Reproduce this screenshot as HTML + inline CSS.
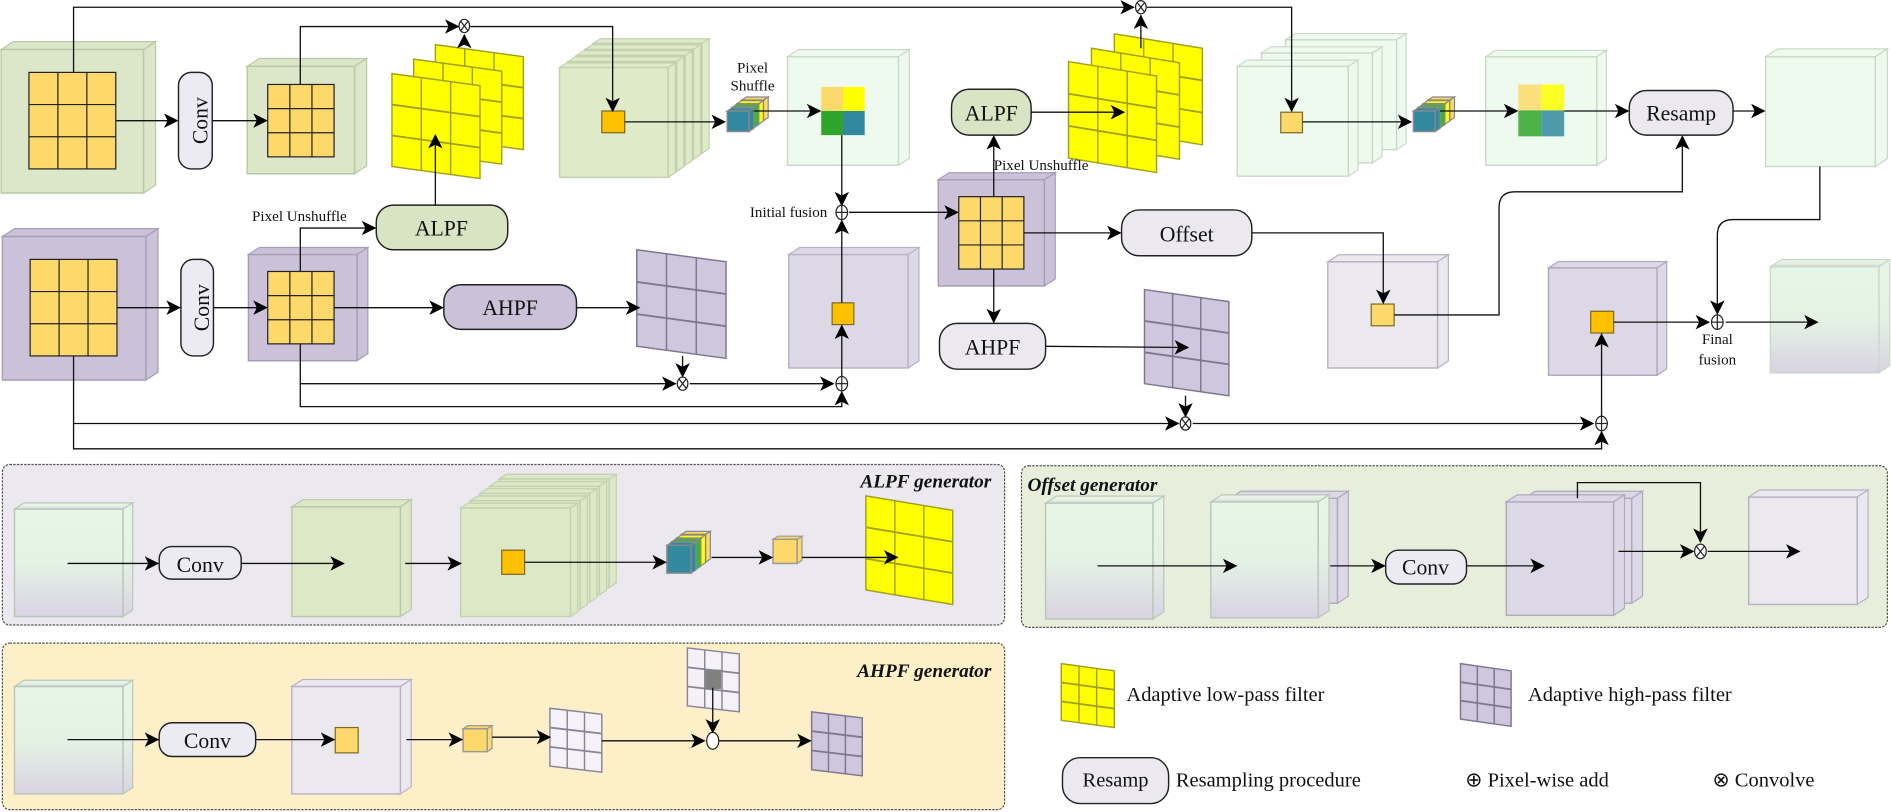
<!DOCTYPE html>
<html><head><meta charset="utf-8"><style>
html,body{margin:0;padding:0;background:#fff;}
svg{display:block;}
text{font-family:"Liberation Serif","Times New Roman",serif;fill:#111;}
</style></head><body>
<svg id="root" xmlns="http://www.w3.org/2000/svg" width="1891" height="812" viewBox="0 0 1568 673" preserveAspectRatio="none" font-family="Liberation Serif, serif">
<defs>
<marker id="ar" markerUnits="userSpaceOnUse" markerWidth="12" markerHeight="12" viewBox="0 0 12 12" refX="11" refY="6" orient="auto"><path d="M0,0 L12,6 L0,12 L3,6 Z" fill="#000"/></marker>
<linearGradient id="gg" x1="0" y1="0" x2="0" y2="1"><stop offset="0" stop-color="#e6f6e6"/><stop offset="0.5" stop-color="#e4f2e4"/><stop offset="1" stop-color="#d9d3e3"/></linearGradient>
</defs>
<rect x="2" y="385" width="831" height="133" rx="6" fill="#ebe8f0" stroke="#555" stroke-dasharray="2,1"/>
<rect x="2" y="533" width="831" height="138" rx="6" fill="#fdf0c8" stroke="#555" stroke-dasharray="2,1"/>
<rect x="847" y="386" width="718" height="134" rx="6" fill="#e7eedb" stroke="#555" stroke-dasharray="2,1"/>
<g id="s"></g>
<g id="l"></g>
<g id="t"></g>
<g font-family="Liberation Serif, serif">
<g font-size="18">
<text x="0" y="0" transform="translate(168,100) rotate(-90)" text-anchor="middle" dominant-baseline="middle">Conv</text>
<text x="0" y="0" transform="translate(169,255) rotate(-90)" text-anchor="middle" dominant-baseline="middle">Conv</text>
<text x="366" y="195" text-anchor="middle">ALPF</text>
<text x="423" y="261" text-anchor="middle">AHPF</text>
<text x="822" y="100" text-anchor="middle">ALPF</text>
<text x="823" y="294" text-anchor="middle">AHPF</text>
<text x="984" y="200" text-anchor="middle">Offset</text>
<text x="1394" y="100" text-anchor="middle">Resamp</text>
<text x="166" y="474" text-anchor="middle">Conv</text>
<text x="172" y="620" text-anchor="middle">Conv</text>
<text x="1182" y="476" text-anchor="middle">Conv</text>
</g>
<g font-size="12.5">
<text x="209" y="183">Pixel Unshuffle</text>
<text x="624" y="60" text-anchor="middle">Pixel</text>
<text x="624" y="75" text-anchor="middle">Shuffle</text>
<text x="686" y="180" text-anchor="end">Initial fusion</text>
<text x="824" y="141">Pixel Unshuffle</text>
<text x="1424" y="285" text-anchor="middle">Final</text>
<text x="1424" y="302" text-anchor="middle">fusion</text>
</g>
<g font-size="16" font-style="italic" font-weight="bold">
<text x="822" y="404" text-anchor="end">ALPF generator</text>
<text x="822" y="561" text-anchor="end">AHPF generator</text>
<text x="852" y="407">Offset generator</text>
</g>
<g font-size="17">
<text x="934" y="581">Adaptive low-pass filter</text>
<text x="1267" y="581">Adaptive high-pass filter</text>
<text x="925" y="652" text-anchor="middle">Resamp</text>
<text x="975" y="652">Resampling procedure</text>
<text x="1215" y="652">⊕ Pixel-wise add</text>
<text x="1420" y="652">⊗ Convolve</text>
</g>
</g>
</svg>
<script>
var S=document.getElementById('s'),L=document.getElementById('l'),T=document.getElementById('t'),NS='http://www.w3.org/2000/svg';
function el(t,a,p){var e=document.createElementNS(NS,t);for(var k in a)e.setAttribute(k,a[k]);(p||S).appendChild(e);return e;}
function cube(x,y,w,h,d,f,st,sf){st=st||'#b5b5b5';var dy=d*0.65;
 el('polygon',{points:[x,y,x+d,y-dy,x+w+d,y-dy,x+w,y].join(' '),fill:sf||f,stroke:st,'stroke-width':1});
 el('polygon',{points:[x+w,y,x+w+d,y-dy,x+w+d,y+h-dy,x+w,y+h].join(' '),fill:sf||f,stroke:st,'stroke-width':1});
 el('rect',{x:x,y:y,width:w,height:h,fill:f,stroke:st,'stroke-width':1.2});}
function grid(x,y,w,h,n,m,f,st){el('rect',{x:x,y:y,width:w,height:h,fill:f,stroke:st||'#222','stroke-width':1});
 for(var i=1;i<n;i++)el('line',{x1:x+w*i/n,y1:y,x2:x+w*i/n,y2:y+h,stroke:st||'#222','stroke-width':1});
 for(var j=1;j<m;j++)el('line',{x1:x,y1:y+h*j/m,x2:x+w,y2:y+h*j/m,stroke:st||'#222','stroke-width':1});}
function filt(x,y,w,h,sk,f,st){el('polygon',{points:[x,y,x+w,y+sk,x+w,y+h+sk,x,y+h].join(' '),fill:f,stroke:st,'stroke-width':1.2});
 for(var i=1;i<3;i++){var xx=x+w*i/3;el('line',{x1:xx,y1:y+sk*i/3,x2:xx,y2:y+h+sk*i/3,stroke:st,'stroke-width':1.2});}
 for(var j=1;j<3;j++){el('line',{x1:x,y1:y+h*j/3,x2:x+w,y2:y+h*j/3+sk,stroke:st,'stroke-width':1.5});}}
function yf(x,y,w,h,sk){filt(x,y,w,h,sk,'#ffff00','#a0a020');}
function pf(x,y,w,h,sk){filt(x,y,w,h,sk,'#cfc7dd','#7e7690');}
function ln(p,a){el('polyline',{points:p.join(' '),fill:'none',stroke:'#111','stroke-width':1.1,'marker-end':a===false?'':'url(#ar)'},L);}
function pth(d,a){el('path',{d:d,fill:'none',stroke:'#111','stroke-width':1.1,'marker-end':a===false?'':'url(#ar)'},L);}
function pill(x,y,w,h,f){el('rect',{x:x,y:y,width:w,height:h,rx:Math.min(w,h)/2.6,fill:f,stroke:'#222','stroke-width':1.2});}
function plus(cx,cy,r){r=r||6;el('ellipse',{cx:cx,cy:cy,rx:r*0.8,ry:r,fill:'#fff',stroke:'#222','stroke-width':1},T);
 el('line',{x1:cx-r*0.8,y1:cy,x2:cx+r*0.8,y2:cy,stroke:'#222','stroke-width':1},T);el('line',{x1:cx,y1:cy-r,x2:cx,y2:cy+r,stroke:'#222','stroke-width':1},T);}
function tms(cx,cy,r){r=r||6;el('ellipse',{cx:cx,cy:cy,rx:r*0.8,ry:r,fill:'#fff',stroke:'#222','stroke-width':1},T);
 el('line',{x1:cx-r*0.55,y1:cy-r*0.7,x2:cx+r*0.55,y2:cy+r*0.7,stroke:'#222','stroke-width':1},T);el('line',{x1:cx+r*0.55,y1:cy-r*0.7,x2:cx-r*0.55,y2:cy+r*0.7,stroke:'#222','stroke-width':1},T);}
function sq(x,y,w,h,f){el('rect',{x:x,y:y,width:w,height:h,fill:f,stroke:'#7a6a20','stroke-width':1});}
function four(x,y,w,h,o){var a=['#fdd86a','#ffff00','#2ea52a','#31889f'];o=o||1;
 el('rect',{x:x,y:y,width:w/2,height:h/2,fill:a[0],opacity:o});el('rect',{x:x+w/2,y:y,width:w/2,height:h/2,fill:a[1],opacity:o});
 el('rect',{x:x,y:y+h/2,width:w/2,height:h/2,fill:a[2],opacity:o});el('rect',{x:x+w/2,y:y+h/2,width:w/2,height:h/2,fill:a[3],opacity:o});}
function slabs(x,y,w,h,cols,ox,oy){for(var i=cols.length-1;i>=0;i--)cube(x+ox*i,y-oy*i,w,h,4,cols[i],'#888');}
var GR='#dbe7c8',GS='#b9c7a6',LG='#eefaee',LGS='#c9d9c9',PU='#cbc2da',PUS='#a59db4',LV='#ddd8e6',LL='#ebe8f0',YC='#fdd86a',OR='#ffc000';
ln([61,60,61,6,940,6]);
ln([249,70,249,22,380,22]);
ln([390,22,508,22,508,92]);
ln([951,6,1071,6,1071,92]);
cube(1,41,118,119,10,GR,GS);grid(24,60,72,80,3,3,YC);
ln([96,100,147,100]);pill(148,60,28,80,'#ecebf3');ln([176,100,221,100]);
cube(205,55,89,89,10,GR,GS);grid(222,70,55,60,3,3,YC);
yf(361,37,73,77,10);yf(343,49,73,77,10);yf(325,61,73,77,10);
ln([385,37,385,29]);tms(385,21.5,5.5);
pill(312,170,109,37,'#d8e4c4');
ln([361,170,361,112]);
ln([249,225,249,189,311,189]);
for(var i=4;i>=0;i--)cube(464+i*7,56-i*5,90,91,6,'#dfeac9','#c3d0af');
sq(499,92,19,18,OR);
ln([518,101,601,101]);
slabs(603,92,18,17,['#31889f','#3cb43c','#ffff00','#fdd86a'],4,3);
ln([625,92,680,92]);
cube(653,47,92,90,9,LG,LGS);four(681,72,36,40);
ln([698,112,698,170]);plus(698,176,6);
ln([704,176,794,176]);
cube(2,196,119,119,10,PU,PUS);grid(25,215,72,80,3,3,YC);
ln([97,255,149,255]);pill(150,215,27,80,'#ecebf3');ln([177,255,221,255]);
cube(206,211,90,88,9,PU,PUS);grid(222,225,55,60,3,3,YC);
ln([277,255,367,255]);pill(368,236,110,37,PU);ln([478,255,530,255]);
pf(528,207,74,80,10);
ln([566,295,566,312]);tms(566,318,5.5);
ln([249,285,249,318,560,318]);
ln([572,318,691,318]);plus(698,318,6);
ln([249,318,249,337,698,337,698,325]);
cube(654,211,99,94,9,LV,'#b8b2c4');sq(690,251,18,18,OR);
ln([698,312,698,270]);ln([698,251,698,183]);
cube(778,149,88,88,9,PU,PUS);grid(795,163,54,60,3,3,YC);
ln([824,163,824,113]);pill(789,74,66,38,'#d8e4c4');
ln([855,93,932,93]);
yf(924,28,73,80,12);yf(905,40,73,80,12);yf(886,51,73,80,12);
ln([946,40,946,13]);tms(946,6,5.5);
ln([849,193,929,193]);pill(930,174,108,38,LL);
ln([824,223,824,267]);pill(779,268,88,38,LL);
ln([867,287,985,288]);
pf(949,240,70,78,10);
ln([983,328,983,345]);tms(983,351,5.5);
ln([61,295,61,351,977,351]);
ln([989,351,1321,351]);plus(1328,351,6);
ln([61,351,61,372,1328,372,1328,358]);
for(var i=2;i>=0;i--)cube(1026+i*20,55-i*11,92,91,8,LG,LGS);
sq(1062,93,18,17,YC);
ln([1080,101,1170,101]);
slabs(1172,92,18,17,['#31889f','#3cb43c','#ffff00','#fdd86a'],4,3);
ln([1194,92,1258,92]);
cube(1232,47,92,90,8,LG,LGS);four(1259,70,38,43,0.85);
ln([1297,92,1350,92]);pill(1351,75,86,37,LL);ln([1437,92,1463,92]);
cube(1464,47,91,91,10,LG,LGS);
cube(1101,217,91,88,9,LL,'#b8b2c4');sq(1137,252,19,18,YC);
ln([1038,193,1147,193,1147,251]);
pth('M1156,261 L1243,261 L1243,172 Q1243,159 1256,159 L1395,159 L1395,113');
cube(1284,222,90,89,8,LV,'#b0a9bd');sq(1319,258,19,18,OR);
ln([1328,345,1328,277]);
ln([1338,267,1417,267]);plus(1424,267,6);
pth('M1509,138 L1509,182 L1437,182 Q1424,182 1424,195 L1424,260');
cube(1468,221,90,88,9,'url(#gg)',LGS);
ln([1431,267,1507,267]);
cube(12,422,90,89,8,'url(#gg)','#b9c7b9');
ln([56,467,131,467]);pill(132,453,68,27,'#ecebf3');ln([200,467,285,467]);
cube(242,420,90,91,9,'#dde8c9',GS);ln([336,467,382,467]);
for(var i=4;i>=0;i--)cube(382+i*8,421-i*6,91,90,6,'#dde8c9','#c3d0af');
sq(416,456,19,20,OR);ln([435,466,552,466]);
slabs(553,452,20,23,['#31889f','#3cb43c','#ffff00','#fdd86a'],4,3);
ln([590,462,640,462]);cube(641,447,20,20,4,YC,'#999');
yf(718,411,72,78,12);
ln([665,462,744,462]);
cube(12,569,90,89,8,'url(#gg)','#b9c7b9');
ln([56,613,131,613]);pill(132,599,80,28,'#ecebf3');ln([212,613,277,613]);
cube(242,569,90,89,9,LL,'#b8b2c4');sq(278,603,19,21,YC);
ln([337,613,383,613]);cube(384,604,20,19,4,YC,'#999');
ln([408,611,456,611]);
filt(456,587,43,48,5,'#f4f2f8','#8a8499');
ln([499,614,584,614]);
filt(570,537,43,48,5,'#f4f2f8','#8a8499');el('rect',{x:585,y:555,width:13,height:16,fill:'#808080'});
ln([591,570,591,607]);
el('ellipse',{cx:591,cy:614,rx:5,ry:7,fill:'#fff',stroke:'#222'},T);
ln([596,614,672,614]);pf(673,590,42,48,5);
cube(867,417,89,96,9,'url(#gg)','#b9c7b9');
cube(1020,413,89,87,9,LV,'#b0a9bd');cube(1004,416,89,96,9,'url(#gg)','#b9c7b9');
ln([910,469,1025,469]);ln([1103,469,1148,469]);
pill(1149,456,67,28,'#ecebf3');ln([1216,469,1280,469]);
cube(1264,413,89,87,9,LV,'#b0a9bd');cube(1249,416,89,94,9,LV,'#b0a9bd');
ln([1308,413,1308,400,1410,400,1410,449]);
ln([1342,457,1404,457]);tms(1410,457,6);ln([1416,457,1492,457]);
cube(1450,412,90,89,9,LL,'#b8b2c4');
yf(880,550,44,47,6);pf(1211,550,42,46,6);
pill(881,628,88,38,LL);
</script>
</body></html>
